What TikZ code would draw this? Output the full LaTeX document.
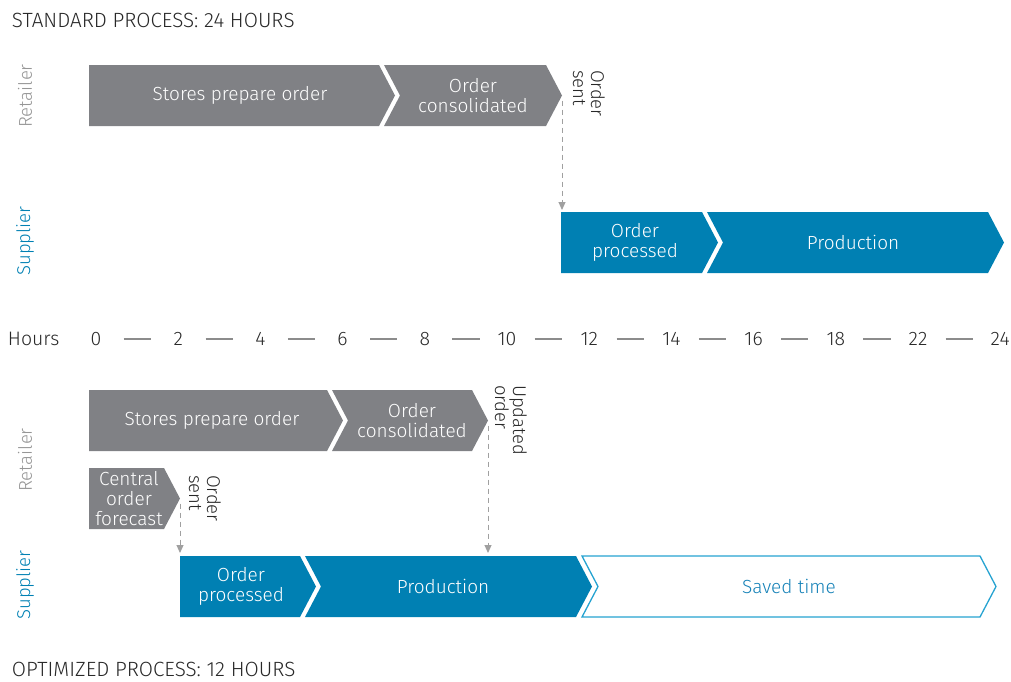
\documentclass[tikz,border=0pt]{standalone}
\usepackage{fontspec}
\setmainfont{Fira Sans Light}
\usetikzlibrary{arrows.meta}

\definecolor{boxgray}{RGB}{128,129,133}
\definecolor{boxblue}{RGB}{0,128,179}
\definecolor{lineblue}{RGB}{38,163,209}
\definecolor{savedtext}{RGB}{22,130,184}
\definecolor{labelgray}{RGB}{150,150,150}
\definecolor{inkdark}{RGB}{40,40,40}
\definecolor{dashgray}{RGB}{160,160,160}
\definecolor{tickgray}{RGB}{140,140,140}

\tikzset{
  every node/.style={inner sep=0pt, outer sep=0pt},
  boxtext/.style={text=white, align=center, font=\fontsize{19}{20}\selectfont},
  retailbox/.style={fill=boxgray},
  supplybox/.style={fill=boxblue},
  savedbox/.style={draw=lineblue, line width=1.3pt, fill=white},
  eventlabel/.style={rotate=-90, anchor=west, align=left, text=inkdark,
    font=\fontsize{18.5}{18}\selectfont},
  lanelabel/.style={rotate=90, font=\fontsize{18.5}{20}\selectfont},
  axistext/.style={text=inkdark, font=\fontsize{19.5}{20}\selectfont},
  titletext/.style={anchor=west, text=inkdark, font=\fontsize{20.6}{22}\selectfont},
  handoff/.style={draw=dashgray, line width=1pt, dash pattern=on 5pt off 4pt,
    -{Triangle[length=8pt,width=7pt]}},
  tickdash/.style={draw=tickgray, line width=1.2pt},
}

% #1 name, #2 fill style, #3 left x, #4 end of flat top, #5 top y,
% #6 notch depth on the left, #7 text x, #8 text
\newcommand\chevbox[8]{%
  \path[#2] (#3,#5) -- (#4,#5) -- ({#4+16},{#5+30.5}) -- (#4,{#5+61})
    -- (#3,{#5+61}) -- ({#3+#6},{#5+30.5}) -- cycle;
  \coordinate (#1-tip) at ({#4+16},{#5+30.5});
  \coordinate (#1-top) at (#3,#5);
  \node[boxtext] (#1) at (#7,{#5+30.5}) {#8};
}

\begin{document}
\begin{tikzpicture}[x=1pt,y=-1pt]
\path[use as bounding box] (0,0) rectangle (1011,681);

% ---------- standard process ----------
\node[titletext] (stdtitle) at (12,20.5) {STANDARD PROCESS: 24 HOURS};
\node[lanelabel, text=labelgray] (ret1) at (25,96) {Retailer};
\node[lanelabel, text=boxblue] (sup1) at (25,241) {Supplier};

\chevbox{spo1}{retailbox}{89}{379}{65}{0}{240}{Stores prepare order}
\chevbox{oc1}{retailbox}{384}{546}{65}{16}{473}{Order\\consolidated}
\node[eventlabel] (sent1) at (589,70) {Order\\sent};

\chevbox{op1}{supplybox}{561}{702}{212}{0}{635}{Order\\processed}
\chevbox{pr1}{supplybox}{707}{988}{212}{16}{853}{Production}

\draw[handoff] ([yshift=-5pt]oc1-tip) -- ([yshift=2pt]oc1-tip |- op1-top);

% ---------- hour scale ----------
\node[axistext, anchor=west] (hours) at (8,339) {Hours};
\foreach \v [count=\i from 0] in {0,2,4,6,8,10,12,14,16,18,22,24}
  \node[axistext] (h\i) at ({96+82.2*\i},339) {\v};
\foreach \i [evaluate=\i as \j using int(\i+1)] in {0,...,10}
  \draw[tickdash, shorten <=27.5pt, shorten >=27.5pt] (h\i.center) -- (h\j.center);

% ---------- optimized process ----------
\node[lanelabel, text=labelgray] (ret2) at (25,460) {Retailer};
\node[lanelabel, text=boxblue] (sup2) at (25,585) {Supplier};

\chevbox{spo2}{retailbox}{89}{327}{390}{0}{212}{Stores prepare order}
\chevbox{oc2}{retailbox}{332}{472}{390}{16}{412}{Order\\consolidated}
\node[eventlabel] (upd2) at (511,385) {Updated\\order};

\chevbox{cof2}{retailbox}{89}{164}{468}{0}{129}{Central\\order\\forecast}
\node[eventlabel] (sent2) at (205,475) {Order\\sent};

\chevbox{op2}{supplybox}{180}{300}{556}{0}{241}{Order\\processed}
\chevbox{pr2}{supplybox}{305}{576}{556}{16}{443}{Production}
\chevbox{sv2}{savedbox}{582}{980}{556}{16}{789}{\color{savedtext}Saved time}

\draw[handoff] ([yshift=-5pt]cof2-tip) -- ([yshift=3pt]cof2-tip |- op2-top);
\draw[handoff] ([yshift=-5pt]oc2-tip) -- ([yshift=3pt]oc2-tip |- op2-top);

\node[titletext] (opttitle) at (12,669.5) {OPTIMIZED PROCESS: 12 HOURS};
\end{tikzpicture}
\end{document}
